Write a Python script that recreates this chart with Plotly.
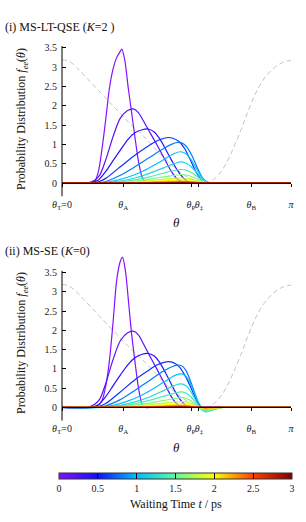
import math
import plotly.graph_objects as go
from plotly.colors import sample_colorscale

PI = math.pi
W, H = 306, 522

# ---------------- data ----------------
times = [0.0, 0.2, 0.4, 0.6, 0.8, 1.0, 1.2, 1.4, 1.6, 1.8, 2.0, 2.2, 2.4, 2.6, 2.8, 3.0]

theta_tick_vals = [0, 0.841, 1.770, 1.879, 2.597, PI]
theta_tick_text = ["<i>θ</i><sub>T</sub>=0", "<i>θ</i><sub>A</sub>", "<i>θ</i><sub>P</sub>",
                   "<i>θ</i><sub>‡</sub>", "<i>θ</i><sub>B</sub>", "<i>π</i>"]
f_tick_vals = [0, 0.5, 1, 1.5, 2, 2.5, 3, 3.5]
f_tick_text = ["0", "0.5", "1", "1.5", "2", "2.5", "3", "3.5"]
cb_tick_vals = [0, 0.5, 1, 1.5, 2, 2.5, 3]
cb_tick_text = ["0", "0.5", "1", "1.5", "2", "2.5", "3"]

# gray dashed reference curve
theta_pot = [0, 0.1, 0.2, 0.3, 0.4, 0.5, 0.6, 0.7, 0.8, 0.9, 1.0, 1.1, 1.2, 1.3, 1.4, 1.5, 1.6,
             1.7, 1.8, 1.9, 1.98, 2.05, 2.15, 2.25, 2.35, 2.45, 2.55, 2.65, 2.77, 2.9, 3.02, PI]
v_pot = [3.2, 3.15, 3.0, 2.8, 2.6, 2.4, 2.2, 2.0, 1.8, 1.6, 1.42, 1.25, 1.05, 0.85, 0.65, 0.48, 0.32,
         0.18, 0.08, 0.02, 0.0, 0.05, 0.22, 0.5, 0.9, 1.35, 1.85, 2.3, 2.7, 2.97, 3.12, 3.18]

# ---- panel (i) MS-LT-QSE ----
th_i_00 = [0, 0.40, 0.45, 0.50, 0.55, 0.60, 0.65, 0.70, 0.75, 0.79, 0.82, 0.86, 0.91, 0.95, 1.00, 1.05, 1.10, 1.15, 1.25, PI]
f_i_00 = [0, 0, 0.05, 0.30, 0.90, 1.65, 2.45, 2.95, 3.25, 3.38, 3.47, 3.20, 2.45, 1.90, 1.20, 0.55, 0.15, 0.02, 0, 0]
th_i_02 = [0, 0.35, 0.45, 0.52, 0.60, 0.70, 0.80, 0.90, 0.98, 1.05, 1.12, 1.20, 1.30, 1.40, 1.50, 1.57, 1.64, 1.72, 1.80, PI]
f_i_02 = [0, 0, 0.07, 0.21, 0.60, 1.20, 1.68, 1.88, 1.92, 1.82, 1.60, 1.33, 1.00, 0.65, 0.30, 0.12, 0.04, 0, 0, 0]
th_i_04 = [0, 0.38, 0.50, 0.60, 0.70, 0.80, 0.90, 1.00, 1.10, 1.18, 1.26, 1.34, 1.42, 1.50, 1.60, 1.70, 1.78, 1.86, PI]
f_i_04 = [0, 0, 0.08, 0.30, 0.58, 0.85, 1.12, 1.30, 1.38, 1.40, 1.33, 1.15, 0.88, 0.60, 0.28, 0.07, 0, 0, 0]
th_i_06 = [0, 0.40, 0.50, 0.60, 0.80, 1.00, 1.20, 1.30, 1.40, 1.46, 1.52, 1.60, 1.68, 1.76, 1.84, 1.92, 2.00, 2.08, PI]
f_i_06 = [0, 0, 0.03, 0.12, 0.42, 0.72, 0.98, 1.09, 1.16, 1.18, 1.16, 1.08, 0.90, 0.60, 0.28, 0.07, 0, 0, 0]
th_i_08 = [0, 0.45, 0.60, 0.80, 1.00, 1.20, 1.40, 1.50, 1.58, 1.64, 1.70, 1.78, 1.86, 1.94, 2.02, 2.10, PI]
f_i_08 = [0, 0, 0.04, 0.20, 0.42, 0.66, 0.90, 1.00, 1.05, 1.04, 0.96, 0.72, 0.38, 0.10, 0, 0, 0]
th_i_10 = [0, 0.50, 0.70, 0.90, 1.10, 1.30, 1.45, 1.55, 1.62, 1.70, 1.78, 1.86, 1.94, 2.02, 2.10, PI]
f_i_10 = [0, 0, 0.05, 0.15, 0.30, 0.50, 0.67, 0.77, 0.81, 0.76, 0.58, 0.32, 0.10, 0, 0, 0]
th_i_tail = [0, 0.55, 0.80, 1.00, 1.20, 1.40, 1.55, 1.63, 1.72, 1.80, 1.88, 1.96, 2.04, 2.12, PI]
f_i_12 = [0, 0, 0.05, 0.13, 0.25, 0.40, 0.51, 0.55, 0.50, 0.37, 0.20, 0.05, 0, 0, 0]
f_i_14 = [0, 0, 0.03, 0.08, 0.16, 0.26, 0.33, 0.35, 0.32, 0.24, 0.13, 0.03, 0, 0, 0]
f_i_16 = [0, 0, 0.02, 0.05, 0.10, 0.16, 0.20, 0.22, 0.20, 0.15, 0.08, 0.02, 0, 0, 0]
f_i_18 = [0, 0, 0.01, 0.03, 0.06, 0.10, 0.12, 0.13, 0.12, 0.09, 0.05, 0.01, 0, 0, 0]
f_i_20 = [0, 0, 0.01, 0.02, 0.04, 0.06, 0.075, 0.08, 0.075, 0.055, 0.03, 0.01, 0, 0, 0]
f_i_22 = [0, 0, 0, 0.01, 0.02, 0.035, 0.045, 0.05, 0.045, 0.035, 0.02, 0.005, 0, 0, 0]
f_i_24 = [0, 0, 0, 0.005, 0.01, 0.02, 0.025, 0.03, 0.025, 0.02, 0.01, 0, 0, 0, 0]
f_i_26 = [0, 0, 0, 0, 0.005, 0.01, 0.015, 0.018, 0.015, 0.01, 0.005, 0, 0, 0, 0]
f_i_28 = [0, 0, 0, 0, 0, 0.005, 0.008, 0.01, 0.008, 0.005, 0, 0, 0, 0, 0]
f_i_30 = [0, 0, 0, 0, 0, 0, 0.004, 0.005, 0.004, 0, 0, 0, 0, 0, 0]

# ---- panel (ii) MS-SE ----
th_ii_00 = [0, 0.42, 0.50, 0.55, 0.60, 0.65, 0.70, 0.75, 0.80, 0.83, 0.87, 0.91, 0.95, 1.00, 1.05, 1.10, 1.15, 1.25, PI]
f_ii_00 = [0, 0, 0.06, 0.18, 0.55, 1.20, 2.20, 3.30, 3.80, 3.90, 3.55, 2.80, 2.00, 1.20, 0.50, 0.08, 0, 0, 0]
th_ii_02 = [0, 0.35, 0.45, 0.52, 0.60, 0.70, 0.80, 0.90, 0.98, 1.05, 1.12, 1.20, 1.30, 1.40, 1.50, 1.57, 1.64, 1.72, 1.80, PI]
f_ii_02 = [0, 0, 0.08, 0.22, 0.62, 1.24, 1.73, 1.94, 1.98, 1.88, 1.64, 1.35, 1.00, 0.64, 0.28, 0.10, 0.02, 0, 0, 0]
th_ii_04 = [0, 0.38, 0.50, 0.60, 0.70, 0.80, 0.90, 1.00, 1.10, 1.18, 1.26, 1.34, 1.42, 1.50, 1.60, 1.70, 1.78, 1.86, PI]
f_ii_04 = [0, 0, 0.07, 0.28, 0.56, 0.84, 1.10, 1.29, 1.38, 1.40, 1.34, 1.17, 0.90, 0.60, 0.26, 0.05, 0, 0, 0]
th_ii_06 = [0, 0.42, 0.50, 0.60, 0.80, 1.00, 1.20, 1.30, 1.40, 1.46, 1.52, 1.60, 1.68, 1.76, 1.84, 1.90, 1.96, 2.05, 2.14, PI]
f_ii_06 = [0, 0, 0.02, 0.10, 0.40, 0.72, 0.98, 1.10, 1.17, 1.19, 1.17, 1.07, 0.85, 0.55, 0.20, 0.02, -0.03, -0.01, 0, 0]
th_ii_08 = [0, 0.45, 0.60, 0.80, 1.00, 1.20, 1.40, 1.50, 1.58, 1.64, 1.70, 1.76, 1.82, 1.88, 1.95, 2.05, 2.15, 2.25, PI]
f_ii_08 = [0, 0, 0.04, 0.20, 0.44, 0.70, 0.95, 1.05, 1.10, 1.08, 0.96, 0.70, 0.38, 0.08, -0.05, -0.03, 0, 0, 0]
th_ii_10 = [0, 0.50, 0.70, 0.90, 1.10, 1.30, 1.45, 1.55, 1.62, 1.68, 1.74, 1.80, 1.86, 1.92, 1.98, 2.06, 2.20, 2.30, PI]
f_ii_10 = [0, 0, 0.05, 0.16, 0.32, 0.54, 0.72, 0.83, 0.87, 0.84, 0.70, 0.45, 0.18, -0.03, -0.09, -0.06, 0, 0, 0]
th_ii_tail = [0, 0.55, 0.80, 1.00, 1.20, 1.40, 1.55, 1.63, 1.70, 1.77, 1.84, 1.90, 1.97, 2.05, 2.20, 2.30, PI]
f_ii_12 = [0, 0, 0.05, 0.14, 0.27, 0.44, 0.57, 0.61, 0.56, 0.40, 0.16, -0.04, -0.12, -0.08, 0, 0, 0]
f_ii_14 = [0, 0, 0.03, 0.09, 0.18, 0.29, 0.37, 0.40, 0.37, 0.27, 0.10, -0.03, -0.10, -0.07, 0, 0, 0]
f_ii_16 = [0, 0, 0.02, 0.06, 0.11, 0.18, 0.23, 0.25, 0.23, 0.17, 0.06, -0.02, -0.07, -0.05, 0, 0, 0]
f_ii_18 = [0, 0, 0.01, 0.03, 0.07, 0.11, 0.14, 0.15, 0.14, 0.10, 0.04, -0.01, -0.04, -0.03, 0, 0, 0]
f_ii_20 = [0, 0, 0.01, 0.02, 0.04, 0.07, 0.085, 0.09, 0.085, 0.06, 0.02, -0.01, -0.03, -0.02, 0, 0, 0]
f_ii_22 = [0, 0, 0, 0.01, 0.02, 0.04, 0.05, 0.055, 0.05, 0.035, 0.01, 0, -0.015, -0.01, 0, 0, 0]
f_ii_24 = [0, 0, 0, 0.005, 0.01, 0.02, 0.03, 0.03, 0.03, 0.02, 0.005, 0, -0.01, -0.005, 0, 0, 0]
f_ii_26 = [0, 0, 0, 0, 0.005, 0.01, 0.015, 0.018, 0.015, 0.01, 0, 0, -0.005, 0, 0, 0, 0]
f_ii_28 = [0, 0, 0, 0, 0, 0.005, 0.008, 0.01, 0.008, 0.005, 0, 0, 0, 0, 0, 0, 0]
f_ii_30 = [0, 0, 0, 0, 0, 0, 0.004, 0.005, 0.004, 0, 0, 0, 0, 0, 0, 0, 0]

panel_i = [(th_i_00, f_i_00), (th_i_02, f_i_02), (th_i_04, f_i_04), (th_i_06, f_i_06),
           (th_i_08, f_i_08), (th_i_10, f_i_10), (th_i_tail, f_i_12), (th_i_tail, f_i_14),
           (th_i_tail, f_i_16), (th_i_tail, f_i_18), (th_i_tail, f_i_20), (th_i_tail, f_i_22),
           (th_i_tail, f_i_24), (th_i_tail, f_i_26), (th_i_tail, f_i_28), (th_i_tail, f_i_30)]
panel_ii = [(th_ii_00, f_ii_00), (th_ii_02, f_ii_02), (th_ii_04, f_ii_04), (th_ii_06, f_ii_06),
            (th_ii_08, f_ii_08), (th_ii_10, f_ii_10), (th_ii_tail, f_ii_12), (th_ii_tail, f_ii_14),
            (th_ii_tail, f_ii_16), (th_ii_tail, f_ii_18), (th_ii_tail, f_ii_20), (th_ii_tail, f_ii_22),
            (th_ii_tail, f_ii_24), (th_ii_tail, f_ii_26), (th_ii_tail, f_ii_28), (th_ii_tail, f_ii_30)]

# ---------------- style ----------------
colorscale = [
    [0.0, "rgb(136,16,255)"],
    [0.167, "rgb(16,16,255)"],
    [0.333, "rgb(0,192,255)"],
    [0.5, "rgb(96,248,160)"],
    [0.667, "rgb(255,255,0)"],
    [0.833, "rgb(255,64,0)"],
    [1.0, "rgb(128,0,0)"],
]
line_colors = sample_colorscale(colorscale, [t / 3.0 for t in times])
SERIF = "Liberation Serif, Times New Roman, serif"

fig = go.Figure()

def px_y(p):  # pixel (from top) -> paper fraction
    return 1 - p / H

def px_x(p):
    return p / W

for xa, ya, panel in (("x", "y", panel_i), ("x2", "y2", panel_ii)):
    fig.add_trace(go.Scatter(x=theta_pot, y=v_pot, mode="lines", xaxis=xa, yaxis=ya,
                             line=dict(color="#c4c4c4", width=1, dash="5px,3px", shape="spline"),
                             showlegend=False, hoverinfo="skip"))
    for (th, f), c in zip(panel, line_colors):
        fig.add_trace(go.Scatter(x=th, y=f, mode="lines", xaxis=xa, yaxis=ya,
                                 line=dict(color=c, width=1.2, shape="spline", smoothing=0.8),
                                 showlegend=False, hoverinfo="skip"))

# colorbar carrier
fig.add_trace(go.Scatter(
    x=[1.0], y=[1.0], mode="markers", xaxis="x", yaxis="y",
    marker=dict(size=1, opacity=0, color=[0], cmin=0, cmax=3, colorscale=colorscale, showscale=True,
                colorbar=dict(orientation="h", x=px_x((59 + 292) / 2), xanchor="center",
                              y=px_y(472.7), yanchor="top", len=233 / W, lenmode="fraction",
                              thickness=6, thicknessmode="pixels", xpad=0, ypad=0,
                              outlinewidth=1, outlinecolor="#333333",
                              ticks="inside", ticklen=6, tickcolor="black", tickwidth=1,
                              tickvals=cb_tick_vals, ticktext=cb_tick_text,
                              tickfont=dict(family=SERIF, size=10, color="#222"))),
    showlegend=False, hoverinfo="skip"))

YR = [-0.35, 4.0]
xdom = [px_x(62), px_x(291)]
common_x = dict(range=[0, PI], domain=xdom, anchor="free", showline=True, linecolor="black",
                linewidth=1, ticks="outside", ticklen=3, tickcolor="black",
                tickvals=theta_tick_vals, ticktext=theta_tick_text, tickangle=0,
                tickfont=dict(family=SERIF, size=10, color="#222"), showgrid=False,
                zeroline=False, ticklabelstandoff=9, automargin=False)
common_y = dict(range=YR, showline=False, ticks="inside", ticklen=4, tickcolor="black",
                tickvals=f_tick_vals, ticktext=f_tick_text,
                tickfont=dict(family=SERIF, size=10, color="#222"), showgrid=False,
                zeroline=False, ticklabelstandoff=4, automargin=False)

fig.update_layout(
    width=W, height=H, margin=dict(l=0, r=0, t=0, b=0, pad=0), autosize=False,
    paper_bgcolor="white", plot_bgcolor="rgba(0,0,0,0)", showlegend=False,
    xaxis=dict(common_x, position=px_y(183)),
    yaxis=dict(common_y, domain=[px_y(196.5), px_y(28.7)], anchor="x"),
    xaxis2=dict(common_x, position=px_y(407.3)),
    yaxis2=dict(common_y, domain=[px_y(420.8), px_y(253.5)], anchor="x2"),
    shapes=[
        dict(type="line", xref="paper", yref="y", x0=px_x(62), x1=px_x(62), y0=-0.35, y1=3.55,
             line=dict(color="black", width=1)),
        dict(type="line", xref="paper", yref="y2", x0=px_x(62), x1=px_x(62), y0=-0.35, y1=3.55,
             line=dict(color="black", width=1)),
    ],
)

ann = [
    dict(text="(i) MS-LT-QSE (<i>K</i>=2 )", x=px_x(3), y=px_y(27), xanchor="left", yanchor="middle", size=12),
    dict(text="(ii) MS-SE (<i>K</i>=0)", x=px_x(3), y=px_y(251), xanchor="left", yanchor="middle", size=12),
    dict(text="<i>θ</i>", x=px_x(176), y=px_y(222), xanchor="center", yanchor="middle", size=13),
    dict(text="<i>θ</i>", x=px_x(176), y=px_y(447), xanchor="center", yanchor="middle", size=13),
    dict(text="Waiting Time <i>t</i> / ps", x=px_x(176), y=px_y(504), xanchor="center", yanchor="middle", size=12),
]
for a in ann:
    fig.add_annotation(text=a["text"], x=a["x"], y=a["y"], xref="paper", yref="paper",
                       xanchor=a["xanchor"], yanchor=a["yanchor"], showarrow=False,
                       font=dict(family=SERIF, size=a["size"], color="#111"))
for yc in (119, 343):
    fig.add_annotation(text="Probability Distribution <i>f<sub>ee</sub></i>(<i>θ</i>)",
                       x=px_x(22), y=px_y(yc), xref="paper", yref="paper", textangle=-90,
                       xanchor="center", yanchor="middle", showarrow=False,
                       font=dict(family=SERIF, size=12, color="#111"))

fig.write_html("out.html", config={"displayModeBar": False},
               post_script="document.body.style.margin='0px';document.body.style.overflow='hidden';")
